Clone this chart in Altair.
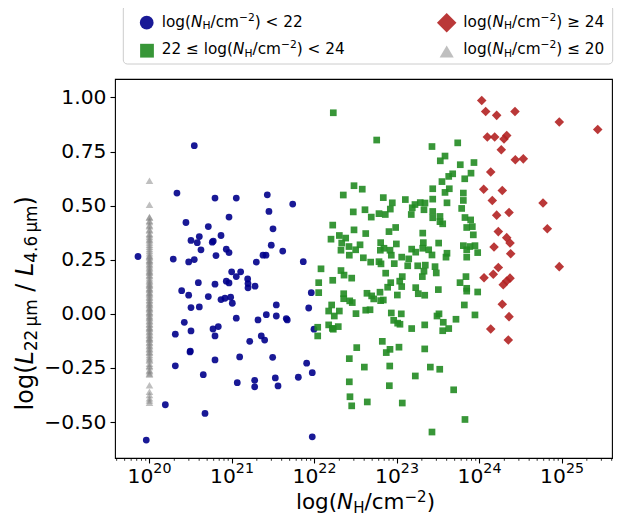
import altair as alt
import pandas as pd
import numpy as np

# ---------------- data (log N_H, log L22/L4.6) ----------------
blue_x = [20.543, 20.333, 20.794, 21.052, 21.428, 21.736, 21.448, 20.964, 20.442, 20.713,
          21.497, 20.604, 20.867, 20.503, 20.579, 20.761, 20.773, 20.624, 21.476, 20.931,
          20.964, 20.806, 21.376, 21.412, 21.615, 19.861, 20.288, 20.475, 20.543, 21.295,
          21.864, 20.996, 21.105, 21.052, 21.190, 20.592, 20.794, 20.931, 20.964, 21.194,
          21.194, 21.279, 21.961, 20.390, 20.475, 20.713, 20.867, 20.915, 20.984, 21.004,
          20.503, 20.604, 21.537, 21.930, 21.416, 21.537, 21.658, 21.052, 21.315, 20.422,
          20.503, 20.313, 20.770, 20.834, 20.794, 21.355, 21.396, 21.215, 21.994, 20.491,
          21.093, 21.493, 20.794, 20.313, 21.905, 21.973, 20.652, 21.804, 21.525, 21.064,
          21.275, 21.275, 21.558, 20.192, 20.673, 19.961, 21.973, 21.670, 20.495]
blue_y = [0.777, 0.558, 0.535, 0.535, 0.550, 0.507, 0.473, 0.447, 0.422, 0.403,
          0.393, 0.357, 0.362, 0.339, 0.329, 0.331, 0.336, 0.296, 0.317, 0.299,
          0.283, 0.269, 0.271, 0.271, 0.290, 0.265, 0.253, 0.240, 0.251, 0.239,
          0.241, 0.194, 0.194, 0.172, 0.161, 0.144, 0.137, 0.151, 0.143, 0.140,
          0.120, 0.128, 0.098, 0.107, 0.086, 0.080, 0.066, 0.072, 0.077, 0.049,
          0.029, 0.032, 0.041, 0.027, -0.004, -0.010, -0.022, -0.020, -0.028, -0.039,
          -0.079, -0.094, -0.070, -0.059, -0.102, -0.102, -0.121, -0.127, -0.071, -0.176,
          -0.199, -0.201, -0.213, -0.240, -0.228, -0.272, -0.281, -0.293, -0.296, -0.318,
          -0.307, -0.337, -0.333, -0.420, -0.460, -0.583, -0.568, -0.028, -0.172]

green_x = [22.228, 22.754, 23.424, 23.736, 23.582, 23.525, 23.767, 23.933, 23.897, 23.675,
           23.627, 23.821, 23.545, 23.433, 23.634, 23.582, 23.804, 22.479, 22.579, 22.349,
           22.834, 23.101, 23.433, 23.282, 23.339, 23.804, 23.784, 23.606, 22.943, 23.218,
           23.185, 23.327, 22.919, 22.470, 22.612, 22.782, 22.858, 22.688, 23.173, 23.433,
           23.433, 23.521, 23.521, 23.554, 23.824, 23.893, 23.845, 23.913, 23.925, 22.221,
           22.479, 22.984, 22.903, 22.621, 22.200, 22.301, 22.378, 22.330, 22.552, 22.418,
           22.321, 22.422, 22.499, 22.802, 22.798, 22.842, 22.915, 22.992, 22.931, 22.592,
           22.681, 22.782, 22.806, 22.967, 23.057, 23.142, 23.178, 23.227, 23.312, 23.319,
           23.312, 23.384, 23.424, 23.505, 23.606, 23.594, 23.804, 23.845, 23.978, 23.130,
           23.251, 23.343, 23.327, 23.307, 23.461, 23.476, 22.863, 23.064, 22.079, 22.321,
           22.358, 22.451, 22.221, 22.051, 22.051, 22.887, 22.924, 23.033, 23.057, 23.227,
           23.258, 23.336, 23.501, 23.836, 23.764, 23.845, 23.845, 23.978, 23.004, 22.636,
           22.693, 22.794, 22.802, 22.718, 22.834, 22.354, 22.354, 22.427, 22.458, 22.208,
           22.172, 22.301, 22.240, 22.621, 22.673, 22.503, 22.931, 23.052, 22.960, 23.008,
           23.036, 23.178, 23.336, 23.485, 23.509, 23.561, 23.627, 23.554, 23.715, 23.816,
           23.945, 22.172, 22.216, 22.288, 22.228, 22.039, 22.039, 22.822, 22.512, 22.870,
           22.915, 23.024, 23.336, 22.422, 22.604, 22.912, 23.404, 23.518, 23.222, 22.422,
           22.907, 23.687, 22.430, 22.451, 22.640, 23.064, 23.824, 23.424, 23.885, 23.845,
           23.945]
green_y = [0.929, 0.803, 0.773, 0.790, 0.729, 0.707, 0.689, 0.699, 0.650, 0.647,
           0.635, 0.624, 0.611, 0.578, 0.578, 0.561, 0.558, 0.592, 0.576, 0.549,
           0.537, 0.528, 0.530, 0.514, 0.512, 0.524, 0.487, 0.513, 0.513, 0.505,
           0.490, 0.481, 0.484, 0.471, 0.481, 0.463, 0.459, 0.447, 0.459, 0.473,
           0.444, 0.450, 0.426, 0.416, 0.445, 0.434, 0.399, 0.403, 0.365, 0.410,
           0.388, 0.399, 0.380, 0.371, 0.345, 0.362, 0.350, 0.327, 0.319, 0.311,
           0.294, 0.271, 0.296, 0.329, 0.294, 0.303, 0.294, 0.323, 0.271, 0.259,
           0.239, 0.241, 0.231, 0.232, 0.262, 0.254, 0.299, 0.285, 0.373, 0.329,
           0.303, 0.296, 0.272, 0.327, 0.280, 0.262, 0.315, 0.262, 0.283, 0.222,
           0.222, 0.225, 0.197, 0.172, 0.218, 0.189, 0.188, 0.172, 0.208, 0.200,
           0.179, 0.165, 0.155, 0.144, 0.098, 0.123, 0.144, 0.151, 0.126, 0.121,
           0.093, 0.086, 0.112, 0.172, 0.144, 0.118, 0.105, 0.101, 0.087, 0.095,
           0.083, 0.100, 0.061, 0.069, 0.064, 0.093, 0.070, 0.060, 0.052, 0.041,
           0.013, 0.013, -0.010, 0.017, 0.019, 0.001, 0.004, 0.000, -0.030, -0.043,
           -0.048, -0.068, -0.051, -0.010, 0.000, -0.039, -0.068, -0.078, -0.025, 0.041,
           -0.005, -0.051, -0.067, -0.059, -0.071, -0.062, -0.102, -0.127, -0.156, -0.179,
           -0.164, -0.154, -0.162, -0.207, -0.246, -0.241, -0.246, -0.256, -0.287, -0.314,
           -0.332, -0.351, -0.383, -0.425, -0.407, -0.412, -0.488, -0.546, 0.311, 0.296,
           0.315]

red_x = [24.027, 24.075, 24.208, 24.430, 24.967, 25.433, 24.095, 24.184, 24.297, 24.330,
         24.264, 24.434, 24.531, 24.136, 24.051, 24.276, 24.155, 24.770, 24.208, 24.358,
         24.822, 24.228, 24.330, 24.370, 24.176, 24.378, 24.967, 24.228, 24.167, 24.055,
         24.370, 24.330, 24.288, 24.276, 24.358, 24.136, 24.349]
red_y = [0.986, 0.935, 0.917, 0.935, 0.886, 0.852, 0.817, 0.817, 0.808, 0.824,
         0.758, 0.712, 0.716, 0.655, 0.576, 0.570, 0.524, 0.512, 0.456, 0.468,
         0.393, 0.380, 0.352, 0.327, 0.309, 0.278, 0.218, 0.214, 0.183, 0.167,
         0.165, 0.152, 0.135, 0.044, -0.013, -0.070, -0.121]

gray_y = [0.615, 0.504, 0.447, 0.43, 0.41, 0.39, 0.37, 0.355, 0.34, 0.33,
          0.31, 0.30, 0.28, 0.27, 0.26, 0.25, 0.24, 0.225, 0.21, 0.20,
          0.19, 0.18, 0.165, 0.15, 0.14, 0.13, 0.12, 0.11, 0.10, 0.09,
          0.075, 0.06, 0.05, 0.04, 0.03, 0.02, 0.01, 0.00, -0.01, -0.02,
          -0.035, -0.05, -0.06, -0.07, -0.085, -0.10, -0.11, -0.12, -0.135, -0.15,
          -0.16, -0.175, -0.19, -0.20, -0.215, -0.23, -0.245, -0.26, -0.275, -0.33,
          -0.375, -0.39, -0.41,
          0.445, 0.425, 0.405, 0.385, 0.365, 0.345, 0.32, 0.29, 0.265, 0.245,
          0.23, 0.215, 0.195, 0.175, 0.155, 0.135, 0.115, 0.095, 0.08, 0.065,
          0.045, 0.025, 0.005, -0.015, -0.03, -0.045, -0.065, -0.08, -0.095, -0.115,
          -0.13, -0.145, -0.165, -0.18, -0.21, -0.24, -0.265, -0.28, -0.36, -0.40]
gray_x = [20.0] * len(gray_y)

X_TICKS = [20, 21, 22, 23, 24, 25]
Y_TICKS = [-0.5, -0.25, 0.0, 0.25, 0.5, 0.75, 1.0]

# ---------------- layout ----------------
W, H = 497, 379
XDOM = [19.582, 25.606]
YDOM = [-0.666, 1.085]
FONT = "DejaVu Sans"
TICK_FS = 20.3

ADV = {' ': 651, '(': 799, ')': 799, '/': 690, '.': 651, '<': 1716, '\u2264': 1716,
       '\u2265': 1716, '\u2212': 1716, 'H': 1540, 'L': 1141, 'N': 1532, 'c': 1126,
       'g': 1300, 'l': 569, 'm': 1995, 'o': 1253, '\u03bc': 1300, '\u2009': 410}


def adv(s, size):
    return sum(ADV.get(c, 1303) for c in s) / 2048.0 * size


def runs(pieces, size, anchor, base, vertical=False, center=False):
    sizes = [size * 0.7 if k in ("sub", "sup") else size for _, k in pieces]
    total = sum(adv(t, s) for (t, _), s in zip(pieces, sizes))
    if center:
        pos = anchor + total / 2 if vertical else anchor - total / 2
    else:
        pos = anchor
    out = []
    step = -1 if vertical else 1
    for (t, k), s in zip(pieces, sizes):
        off = 0.18 * size if k == "sub" else (-0.36 * size if k == "sup" else 0.0)
        lead = len(t) - len(t.lstrip(" "))
        pos += step * adv(" " * lead, s)
        body = t.strip(" ")
        if body:
            if vertical:
                out.append(dict(px=base + off, py=pos, text=body, size=s, angle=270,
                                it=(k == "i")))
            else:
                out.append(dict(px=pos, py=base + off, text=body, size=s, angle=0,
                                it=(k == "i")))
        pos += step * adv(t.lstrip(" "), s)
    return out


def nh(prefix, suffix):
    return [(prefix + "log(", "n"), ("N", "i"), ("H", "sub"), ("/cm", "n"),
            ("\u22122", "sup"), (")" + suffix, "n")]


LEG_FS = 15.3
text_runs = []
text_runs += runs(nh("", " < 22"), LEG_FS, 46.7, -52.5)
text_runs += runs(nh("22 \u2264 ", " < 24"), LEG_FS, 46.7, -25.0)
text_runs += runs(nh("", " \u2265 24"), LEG_FS, 348.3, -52.5)
text_runs += runs(nh("", " \u2264 20"), LEG_FS, 348.3, -25.0)
text_runs += runs(nh("", ""), 21.5, 250.5, 430.3, center=True)
text_runs += runs([("log(", "n"), ("L", "i"), ("22\u2009\u03bcm", "sub"), (" / ", "n"),
                   ("L", "i"), ("4.6\u2009\u03bcm", "sub"), (")", "n")],
                  24.0, 224.3, -82.0, vertical=True, center=True)

xscale = alt.Scale(domain=XDOM, nice=False, zero=False)
yscale = alt.Scale(domain=YDOM, nice=False, zero=False)
X_AXIS = alt.Axis(values=X_TICKS, labels=False, tickSize=5, domain=False, grid=False,
                  title=None)
Y_AXIS = alt.Axis(values=Y_TICKS, format=".2f", tickSize=5, labelPadding=4,
                  labelFontSize=TICK_FS, labelFont=FONT, labelColor="black",
                  domain=False, grid=False, title=None)


def pts(xs, ys, shape, size, color, opacity):
    df = pd.DataFrame({"x": xs, "y": ys})
    return alt.Chart(df).mark_point(shape=shape, size=size, filled=True, color=color,
                                    opacity=opacity, strokeWidth=0).encode(
        x=alt.X("x:Q", scale=xscale, axis=X_AXIS),
        y=alt.Y("y:Q", scale=yscale, axis=Y_AXIS))


blue_l = pts(blue_x, blue_y, "circle", 46, "#00008B", 0.9)
green_l = pts(green_x, green_y, "square", 45, "#228B22", 0.9)
red_l = pts(red_x, red_y, "diamond", 92, "#B22222", 0.9)
gray_l = pts(gray_x, gray_y, "triangle-up", 58, "#808080", 0.5)

# minor log ticks
minor = [n + np.log10(k) for n in range(19, 26) for k in range(2, 10)]
minor = [m for m in minor if XDOM[0] <= m <= XDOM[1]]
minor_l = alt.Chart(pd.DataFrame({"m": minor})).mark_rule(color="black", strokeWidth=0.8).encode(
    x=alt.X("m:Q", scale=xscale, axis=X_AXIS), y=alt.value(H), y2=alt.value(H + 2.8))

# x tick labels 10^n
w10 = adv("10", TICK_FS)
wsup = adv("20", TICK_FS * 0.7)
start = -(w10 + wsup) / 2
tick_df = pd.DataFrame({"t": X_TICKS, "base": ["10"] * len(X_TICKS),
                        "sup": [str(v) for v in X_TICKS]})
tick_base = alt.Chart(tick_df).mark_text(align="left", baseline="alphabetic", font=FONT,
                                         fontSize=TICK_FS, dx=start, color="black").encode(
    x=alt.X("t:Q", scale=xscale, axis=X_AXIS), y=alt.value(H + 24.7), text="base:N")
tick_sup = alt.Chart(tick_df).mark_text(align="left", baseline="alphabetic", font=FONT,
                                        fontSize=TICK_FS * 0.7, dx=start + w10,
                                        color="black").encode(
    x=alt.X("t:Q", scale=xscale, axis=X_AXIS), y=alt.value(H + 24.7 - 9.4), text="sup:N")

# legend frame and symbols
one = pd.DataFrame({"a": [0]})
leg_box = alt.Chart(one).mark_rect(fill="white", stroke="#cccccc", strokeWidth=1,
                                   cornerRadius=4).encode(
    x=alt.value(8.3), x2=alt.value(497.7), y=alt.value(-74), y2=alt.value(-15))


def leg_sym(shape, size, color, opacity, x, y):
    return alt.Chart(one).mark_point(shape=shape, size=size, filled=True, color=color,
                                     opacity=opacity, strokeWidth=0).encode(
        x=alt.value(x), y=alt.value(y))


leg_syms = [leg_sym("circle", 190, "#00008B", 0.9, 31.7, -56.3),
            leg_sym("square", 190, "#228B22", 0.9, 32.0, -28.3),
            leg_sym("diamond", 380, "#B22222", 0.9, 331.7, -56.3),
            leg_sym("triangle-up", 200, "#808080", 0.5, 331.7, -27.5)]

# text runs (titles and legend labels with sub/superscripts)
txt_layers = []
for r in text_runs:
    txt_layers.append(
        alt.Chart(one).mark_text(text=r["text"], align="left", baseline="alphabetic",
                                 font=FONT, fontSize=r["size"], angle=r["angle"],
                                 fontStyle="italic" if r["it"] else "normal",
                                 color="black").encode(
            x=alt.value(r["px"]), y=alt.value(r["py"])))

chart = alt.layer(
    blue_l, green_l, red_l, gray_l, minor_l, tick_base, tick_sup,
    leg_box, *leg_syms, *txt_layers
).properties(
    width=W, height=H,
    padding={"left": 107, "top": 71, "right": 5, "bottom": 58},
    autosize=alt.AutoSizeParams(type="none"),
).configure_view(
    stroke="black", strokeWidth=1.1
).configure_axis(
    labelFont=FONT, labelColor="black", tickColor="black", tickWidth=1.1
)

chart.save("out.html", embed_options={"renderer": "svg", "actions": False})
